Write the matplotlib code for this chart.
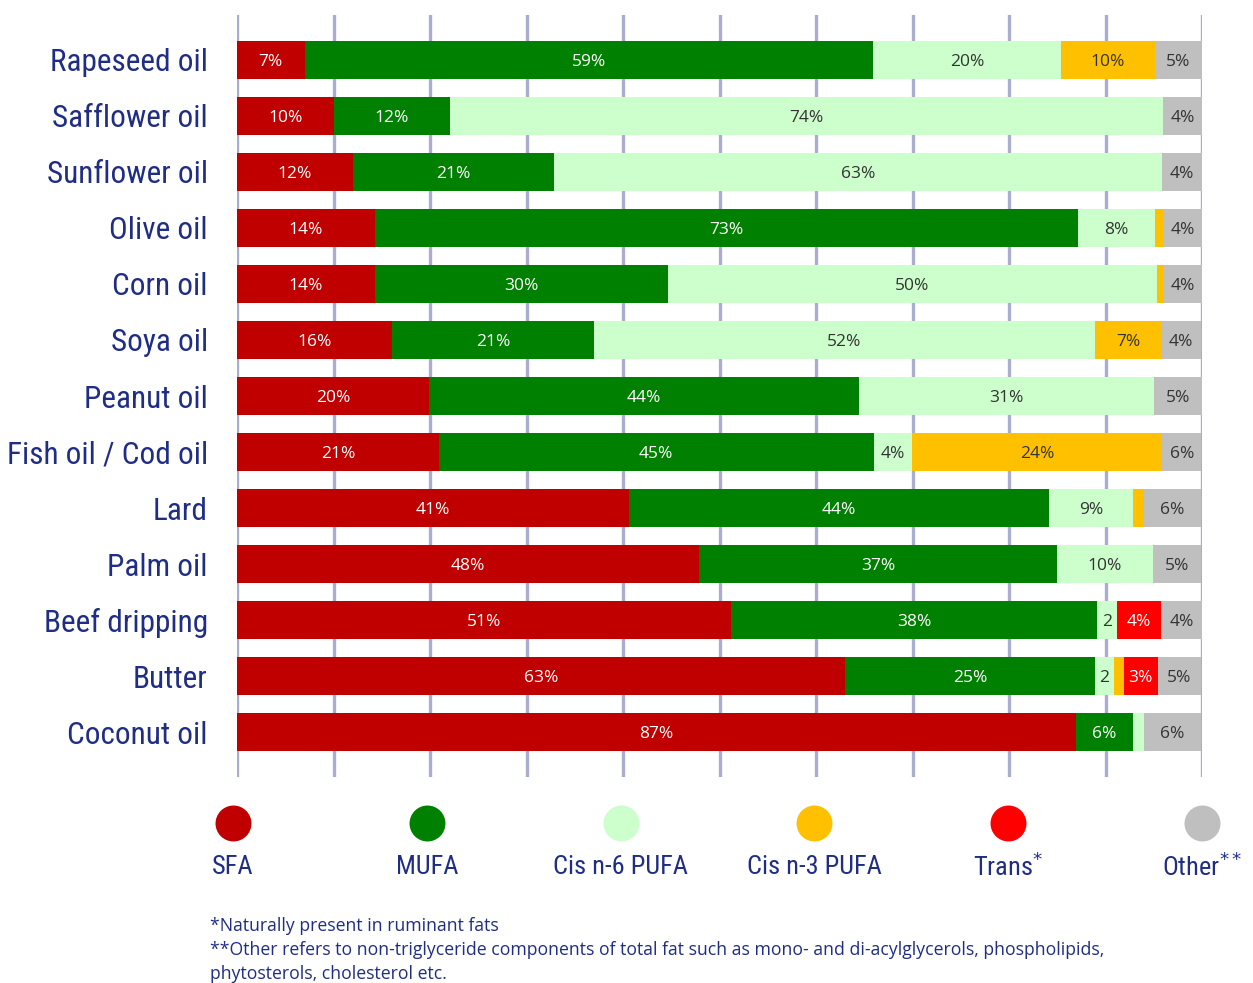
import numpy as np
import matplotlib
matplotlib.use("Agg")
import matplotlib.pyplot as plt

# donnees (largeur des segments en %)
oils = ["Rapeseed oil", "Safflower oil", "Sunflower oil", "Olive oil", "Corn oil",
        "Soya oil", "Peanut oil", "Fish oil / Cod oil", "Lard", "Palm oil",
        "Beef dripping", "Butter", "Coconut oil"]
sfa = [7.0, 10.0, 12.0, 14.3, 14.3, 16.1, 19.9, 20.9, 40.6, 47.9, 51.2, 63.0, 86.9]
mufa = [58.9, 12.1, 20.9, 72.8, 30.4, 20.9, 44.6, 45.1, 43.5, 37.1, 37.9, 25.9, 6.0]
n6_pufa = [19.5, 73.9, 63.0, 8.0, 50.6, 51.9, 30.5, 3.9, 8.8, 9.9, 2.1, 2.0, 1.1]
n3_pufa = [9.7, 0, 0, 1.0, 0.8, 6.9, 0, 26.0, 1.1, 0, 0, 1.0, 0]
trans = [0, 0, 0, 0, 0, 0, 0, 0, 0, 0, 4.5, 3.5, 0]
other = [4.9, 4.0, 4.1, 3.9, 3.9, 4.1, 5.0, 4.0, 5.9, 5.0, 4.5, 4.5, 5.9]

# etiquettes affichees dans les segments
sfa_lbl = ["7%", "10%", "12%", "14%", "14%", "16%", "20%", "21%", "41%", "48%", "51%", "63%", "87%"]
mufa_lbl = ["59%", "12%", "21%", "73%", "30%", "21%", "44%", "45%", "44%", "37%", "38%", "25%", "6%"]
n6_lbl = ["20%", "74%", "63%", "8%", "50%", "52%", "31%", "4%", "9%", "10%", "2", "2", ""]
n3_lbl = ["10%", "", "", "", "", "7%", "", "24%", "", "", "", "", ""]
trans_lbl = ["", "", "", "", "", "", "", "", "", "", "4%", "3%", ""]
other_lbl = ["5%", "4%", "4%", "4%", "4%", "4%", "5%", "6%", "6%", "5%", "4%", "5%", "6%"]

legend_names = ["SFA", "MUFA", "Cis n-6 PUFA", "Cis n-3 PUFA", r"Trans$^{*}$", r"Other$^{**}$"]
footnotes = ["*Naturally present in ruminant fats",
             "**Other refers to non-triglyceride components of total fat such as mono- and di-acylglycerols, phospholipids,",
             "phytosterols, cholesterol etc."]

colors = ["#C00000", "#008000", "#CCFFCC", "#FFC000", "#FF0000", "#BFBFBF"]
txt_colors = ["white", "white", "#333333", "#333333", "white", "#333333"]
navy = "#1F2D85"
grid_col = "#A9ADD0"
narrow = ["Roboto Condensed", "Liberation Sans Narrow", "DejaVu Sans"]
body = ["Open Sans", "DejaVu Sans"]

W, H = 1253, 983
fig = plt.figure(figsize=(W / 100, H / 100), dpi=100)
ax = fig.add_axes([237 / W, 1 - 777 / H, (1202 - 237) / W, (777 - 15) / H])

series = [sfa, mufa, n6_pufa, n3_pufa, trans, other]
labels = [sfa_lbl, mufa_lbl, n6_lbl, n3_lbl, trans_lbl, other_lbl]
y = np.arange(len(oils))
left = np.zeros(len(oils))
for vals, lbls, col, tcol in zip(series, labels, colors, txt_colors):
    vals = np.array(vals, dtype=float)
    bars = ax.barh(y, vals, left=left, height=0.68, color=col, zorder=2)
    for b, lab in zip(bars, lbls):
        if lab:
            ax.text(b.get_x() + b.get_width() / 2, b.get_y() + b.get_height() / 2, lab,
                    ha="center", va="center_baseline", color=tcol, fontsize=12.5,
                    family=body, zorder=3)
    left += vals

ax.set_xlim(0, 100)
ax.set_ylim(len(oils) - 1 + 0.8, -0.8)
for gx in np.arange(0, 101, 10):
    ax.axvline(gx, color=grid_col, lw=2.4, zorder=1)
ax.set_yticks(y)
ax.set_yticklabels(oils, family=narrow, fontsize=22.5, color=navy)
ax.tick_params(axis="y", length=0, pad=21)
ax.set_xticks([])
for s in ax.spines.values():
    s.set_visible(False)

# legende faite a la main
lax = fig.add_axes([233 / W, 1 - 890 / H, (1202 - 233) / W, 100 / H])
lax.set_xlim(0, len(legend_names) - 1)
lax.set_ylim(0, 1)
lax.axis("off")
for i, (name, col) in enumerate(zip(legend_names, colors)):
    lax.scatter([i], [0.67], s=670, color=col, clip_on=False, linewidths=0)
    lax.text(i, 0.23, name, ha="center", va="center", color=navy, fontsize=19,
             family=narrow, clip_on=False)

for k, line in enumerate(footnotes):
    fig.text(210 / W, 1 - (926 + 24 * k) / H, line, ha="left", va="center",
             color=navy, fontsize=12.7, family=body)

fig.savefig("out.png", dpi=100)
